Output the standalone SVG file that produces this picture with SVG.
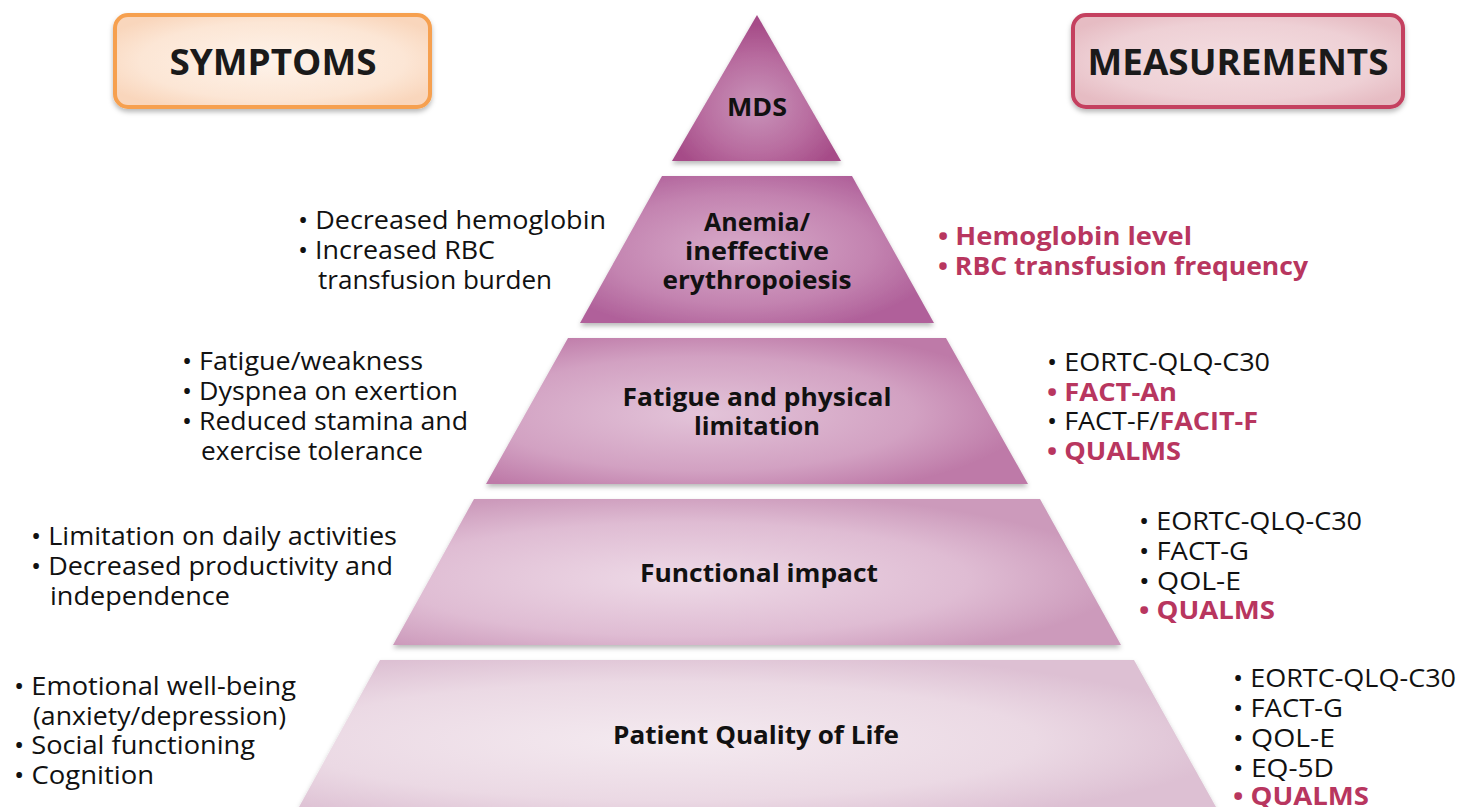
<svg xmlns="http://www.w3.org/2000/svg" width="1458" height="807" viewBox="0 0 1458 807">
  <defs>
    <style>
      .hdr { font-family: "Open Sans", "Liberation Sans", sans-serif; font-weight: 700; font-size: 35px; fill: #1a1a1a; text-anchor: middle; }
      .lvl { font-family: "Open Sans", "Liberation Sans", sans-serif; font-weight: 700; font-size: 25px; fill: #111; text-anchor: middle; }
      .txt { font-family: "Open Sans", "Liberation Sans", sans-serif; font-size: 25px; fill: #111; }
      .hi { font-weight: 700; fill: #B8365F; }
    </style>
    <filter id="shadow" x="-10%" y="-10%" width="120%" height="130%">
      <feDropShadow dx="0" dy="3" stdDeviation="2.5" flood-color="#000" flood-opacity="0.28"/>
    </filter>
    <radialGradient id="gSym" cx="50%" cy="50%" r="60%">
      <stop offset="0" stop-color="#FEF3EA"/>
      <stop offset="0.7" stop-color="#FCE6D5"/>
      <stop offset="1" stop-color="#F9D6BC"/>
    </radialGradient>
    <radialGradient id="gMea" cx="50%" cy="50%" r="60%">
      <stop offset="0" stop-color="#F4DEE1"/>
      <stop offset="0.7" stop-color="#EED0D5"/>
      <stop offset="1" stop-color="#E6BCC3"/>
    </radialGradient>
    <radialGradient id="g1" cx="50%" cy="62%" r="55%">
      <stop offset="0" stop-color="#C994BA"/>
      <stop offset="0.6" stop-color="#B86C9F"/>
      <stop offset="1" stop-color="#A64C88"/>
    </radialGradient>
    <radialGradient id="g2" cx="45%" cy="50%" r="58%">
      <stop offset="0" stop-color="#D8ABCA"/>
      <stop offset="0.65" stop-color="#C383B0"/>
      <stop offset="1" stop-color="#B0619A"/>
    </radialGradient>
    <radialGradient id="g3" cx="40%" cy="52%" r="60%">
      <stop offset="0" stop-color="#E3C4D9"/>
      <stop offset="0.65" stop-color="#D2A1C2"/>
      <stop offset="1" stop-color="#BE7AA8"/>
    </radialGradient>
    <radialGradient id="g4" cx="40%" cy="55%" r="60%">
      <stop offset="0" stop-color="#EEDAE7"/>
      <stop offset="0.65" stop-color="#DFBCD3"/>
      <stop offset="1" stop-color="#CC9ABB"/>
    </radialGradient>
    <radialGradient id="g5" cx="40%" cy="55%" r="62%">
      <stop offset="0" stop-color="#F4EAF0"/>
      <stop offset="0.65" stop-color="#EBD9E4"/>
      <stop offset="1" stop-color="#DDC0D3"/>
    </radialGradient>
  </defs>

  <rect width="1458" height="807" fill="#ffffff"/>

  <!-- column headers -->
  <g id="symptoms-header">
    <rect x="115" y="15" width="315" height="92" rx="13" fill="url(#gSym)" stroke="#F6A050" stroke-width="4" filter="url(#shadow)"/>
    <text class="hdr" x="273" y="75" textLength="207" lengthAdjust="spacingAndGlyphs">SYMPTOMS</text>
  </g>
  <g id="measurements-header">
    <rect x="1073" y="15" width="330" height="92" rx="13" fill="url(#gMea)" stroke="#C4405F" stroke-width="4" filter="url(#shadow)"/>
    <text class="hdr" x="1238" y="75" textLength="301" lengthAdjust="spacingAndGlyphs">MEASUREMENTS</text>
  </g>

  <!-- pyramid tiers -->
  <g id="tier-mds">
    <polygon points="757,15 841,161 672,161" fill="url(#g1)" filter="url(#shadow)"/>
    <text class="lvl" x="757" y="116" textLength="60" lengthAdjust="spacingAndGlyphs">MDS</text>
  </g>
  <g id="tier-anemia">
    <polygon points="662,176 852,176 934,323 580,323" fill="url(#g2)" filter="url(#shadow)"/>
    <text class="lvl" x="757" y="231" textLength="106" lengthAdjust="spacingAndGlyphs">Anemia/</text>
    <text class="lvl" x="757" y="260" textLength="144" lengthAdjust="spacingAndGlyphs">ineffective</text>
    <text class="lvl" x="757" y="289" textLength="189" lengthAdjust="spacingAndGlyphs">erythropoiesis</text>
  </g>
  <g id="tier-fatigue">
    <polygon points="568,338 946,338 1028,484 486,484" fill="url(#g3)" filter="url(#shadow)"/>
    <text class="lvl" x="757" y="406" textLength="269" lengthAdjust="spacingAndGlyphs">Fatigue and physical</text>
    <text class="lvl" x="757" y="435" textLength="126" lengthAdjust="spacingAndGlyphs">limitation</text>
  </g>
  <g id="tier-functional">
    <polygon points="474,499 1040,499 1121,645 393,645" fill="url(#g4)" filter="url(#shadow)"/>
    <text class="lvl" x="759" y="582" textLength="238" lengthAdjust="spacingAndGlyphs">Functional impact</text>
  </g>
  <g id="tier-qol">
    <polygon points="380,660 1134,660 1216,807 299,807" fill="url(#g5)" filter="url(#shadow)"/>
    <text class="lvl" x="756" y="744" textLength="286" lengthAdjust="spacingAndGlyphs">Patient Quality of Life</text>
  </g>

  <!-- symptom lists -->
  <g id="symptoms-anemia" class="txt">
    <text x="298" y="229" textLength="308" lengthAdjust="spacingAndGlyphs">• Decreased hemoglobin</text>
    <text x="298" y="259" textLength="197" lengthAdjust="spacingAndGlyphs">• Increased RBC</text>
    <text x="318" y="289" textLength="234" lengthAdjust="spacingAndGlyphs">transfusion burden</text>
  </g>
  <g id="symptoms-fatigue" class="txt">
    <text x="182" y="370" textLength="241" lengthAdjust="spacingAndGlyphs">• Fatigue/weakness</text>
    <text x="182" y="400" textLength="276" lengthAdjust="spacingAndGlyphs">• Dyspnea on exertion</text>
    <text x="182" y="430" textLength="286" lengthAdjust="spacingAndGlyphs">• Reduced stamina and</text>
    <text x="201" y="460" textLength="222" lengthAdjust="spacingAndGlyphs">exercise tolerance</text>
  </g>
  <g id="symptoms-functional" class="txt">
    <text x="31" y="545" textLength="366" lengthAdjust="spacingAndGlyphs">• Limitation on daily activities</text>
    <text x="31" y="575" textLength="362" lengthAdjust="spacingAndGlyphs">• Decreased productivity and</text>
    <text x="50" y="605" textLength="180" lengthAdjust="spacingAndGlyphs">independence</text>
  </g>
  <g id="symptoms-qol" class="txt">
    <text x="14" y="695" textLength="282" lengthAdjust="spacingAndGlyphs">• Emotional well-being</text>
    <text x="33" y="725" textLength="253" lengthAdjust="spacingAndGlyphs">(anxiety/depression)</text>
    <text x="14" y="754" textLength="241" lengthAdjust="spacingAndGlyphs">• Social functioning</text>
    <text x="14" y="784" textLength="140" lengthAdjust="spacingAndGlyphs">• Cognition</text>
  </g>

  <!-- measurement lists -->
  <g id="measures-anemia" class="txt">
    <text class="hi" x="938" y="245" textLength="254" lengthAdjust="spacingAndGlyphs">• Hemoglobin level</text>
    <text class="hi" x="938" y="275" textLength="370" lengthAdjust="spacingAndGlyphs">• RBC transfusion frequency</text>
  </g>
  <g id="measures-fatigue" class="txt">
    <text x="1047" y="371" textLength="223" lengthAdjust="spacingAndGlyphs">• EORTC-QLQ-C30</text>
    <text class="hi" x="1047" y="401" textLength="130" lengthAdjust="spacingAndGlyphs">• FACT-An</text>
    <text x="1047" y="430" textLength="211" lengthAdjust="spacingAndGlyphs">• FACT-F/<tspan class="hi">FACIT-F</tspan></text>
    <text class="hi" x="1047" y="460" textLength="134" lengthAdjust="spacingAndGlyphs">• QUALMS</text>
  </g>
  <g id="measures-functional" class="txt">
    <text x="1139" y="530" textLength="223" lengthAdjust="spacingAndGlyphs">• EORTC-QLQ-C30</text>
    <text x="1139" y="560" textLength="110" lengthAdjust="spacingAndGlyphs">• FACT-G</text>
    <text x="1139" y="590" textLength="102" lengthAdjust="spacingAndGlyphs">• QOL-E</text>
    <text class="hi" x="1139" y="619" textLength="136" lengthAdjust="spacingAndGlyphs">• QUALMS</text>
  </g>
  <g id="measures-qol" class="txt">
    <text x="1233" y="687" textLength="223" lengthAdjust="spacingAndGlyphs">• EORTC-QLQ-C30</text>
    <text x="1233" y="717" textLength="110" lengthAdjust="spacingAndGlyphs">• FACT-G</text>
    <text x="1233" y="747" textLength="102" lengthAdjust="spacingAndGlyphs">• QOL-E</text>
    <text x="1233" y="777" textLength="101" lengthAdjust="spacingAndGlyphs">• EQ-5D</text>
    <text class="hi" x="1233" y="805" textLength="136" lengthAdjust="spacingAndGlyphs">• QUALMS</text>
  </g>

  <!-- no connectors in this figure -->
  <g id="connectors"/>
</svg>
